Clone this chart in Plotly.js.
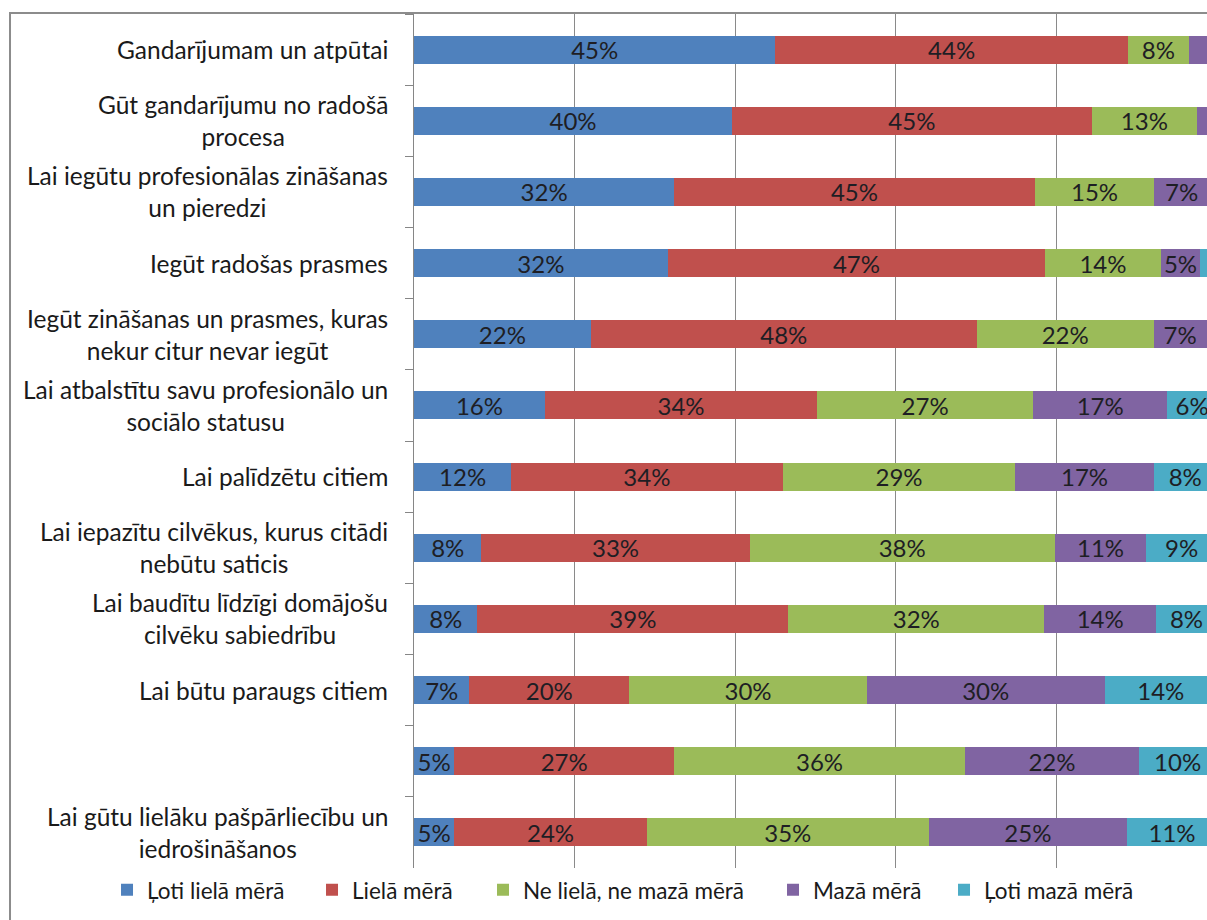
<!DOCTYPE html>
<html>
<head>
<meta charset="utf-8">
<script src="https://cdn.plot.ly/plotly-3.0.1.min.js"></script>
<style>
html, body { margin: 0; padding: 0; overflow: hidden; background: #ffffff; }
#chart { width: 1225px; height: 920px; }
</style>
</head>
<body>
<div id="chart"></div>
<script>
// Categories (top to bottom); the 11th label is blank in the source chart
const categories = [
  'Gandarījumam un atpūtai',
  'Gūt gandarījumu no radošā<br>procesa',
  'Lai iegūtu profesionālas zināšanas<br>un pieredzi',
  'Iegūt radošas prasmes',
  'Iegūt zināšanas un prasmes, kuras<br>nekur citur nevar iegūt',
  'Lai atbalstītu savu profesionālo un<br>sociālo statusu',
  'Lai palīdzētu citiem',
  'Lai iepazītu cilvēkus, kurus citādi<br>nebūtu saticis',
  'Lai baudītu līdzīgi domājošu<br>cilvēku sabiedrību',
  'Lai būtu paraugs citiem',
  ' ',
  'Lai gūtu lielāku pašpārliecību un<br>iedrošināšanos'
];

const seriesNames = ['Ļoti lielā mērā', 'Lielā mērā', 'Ne lielā, ne mazā mērā', 'Mazā mērā', 'Ļoti mazā mērā'];

// Shares in percent
const lotiLiela = [45.0, 39.6, 32.4, 31.6, 22.0, 16.3, 12.1, 8.4, 7.9, 6.9, 5.0, 5.0];
const liela     = [43.9, 44.8, 44.9, 47.0, 48.1, 33.9, 33.8, 33.4, 38.7, 19.9, 27.4, 24.0];
const neNe      = [7.6, 13.1, 14.9, 14.4, 22.0, 26.9, 29.0, 38.0, 31.9, 29.6, 36.2, 35.1];
const maza      = [2.6, 1.5, 6.8, 4.9, 6.6, 16.7, 17.2, 11.4, 13.9, 29.6, 21.7, 24.7];
const lotiMaza  = [1.0, 1.0, 1.0, 2.2, 1.3, 6.2, 7.9, 8.8, 7.6, 14.0, 9.6, 11.2];

const seriesValues = [lotiLiela, liela, neNe, maza, lotiMaza];
const seriesColors = ['#4F81BD', '#C0504D', '#9BBB59', '#8064A2', '#4BACC6'];
const legendWidths = [160, 126, 245, 126, 200];

const FONT = 'Lato, "Open Sans", sans-serif';

const traces = seriesValues.map((vals, i) => ({
  type: 'bar',
  orientation: 'h',
  name: seriesNames[i],
  x: vals,
  y: categories,
  text: vals.map(v => (v >= 4 ? Math.round(v) + '%' : '')),
  textposition: 'inside',
  insidetextanchor: 'middle',
  textangle: 0,
  constraintext: 'none',
  textfont: { family: FONT, size: 24, color: '#1e1e24' },
  marker: { color: seriesColors[i], line: { width: 0 } },
  legendwidth: legendWidths[i],
  hoverinfo: 'skip'
}));

const labelAnnotations = categories.map(c => ({
  text: c,
  x: -0.0299,
  xref: 'paper',
  xanchor: 'right',
  y: c,
  yref: 'y',
  yanchor: 'middle',
  align: 'center',
  showarrow: false,
  font: { family: FONT, size: 24.5, color: '#1a1a1a' }
}));

const layout = {
  width: 1225,
  height: 920,
  margin: { l: 414, r: 8, t: 14, b: 52 },
  paper_bgcolor: '#ffffff',
  plot_bgcolor: '#ffffff',
  barmode: 'stack',
  bargap: 0.606,
  showlegend: true,
  legend: {
    orientation: 'h',
    x: -0.3823,
    xanchor: 'left',
    y: -0.026,
    yanchor: 'middle',
    font: { family: FONT, size: 22.5, color: '#1a1a1a' },
    bgcolor: 'rgba(0,0,0,0)',
    traceorder: 'normal'
  },
  xaxis: {
    range: [0, 100],
    tick0: 0,
    dtick: 20,
    showgrid: true,
    gridcolor: '#8a8a8a',
    gridwidth: 1,
    zeroline: false,
    showline: false,
    showticklabels: false,
    ticks: '',
    fixedrange: true
  },
  yaxis: {
    type: 'category',
    categoryorder: 'array',
    categoryarray: categories,
    autorange: 'reversed',
    showgrid: false,
    zeroline: false,
    showline: true,
    linecolor: '#868686',
    linewidth: 1.5,
    ticks: 'outside',
    tickson: 'boundaries',
    ticklen: 8,
    tickcolor: '#868686',
    tickwidth: 1,
    showticklabels: false,
    fixedrange: true
  },
  shapes: [{
    type: 'rect',
    xref: 'paper', yref: 'paper',
    x0: -0.5031, x1: 1.05,
    y0: -0.2, y1: 1.0012,
    line: { color: '#8c8c8c', width: 2 },
    fillcolor: 'rgba(0,0,0,0)',
    layer: 'below'
  }],
  annotations: labelAnnotations
};

Plotly.newPlot('chart', traces, layout, { displayModeBar: false, staticPlot: true });
</script>
</body>
</html>
